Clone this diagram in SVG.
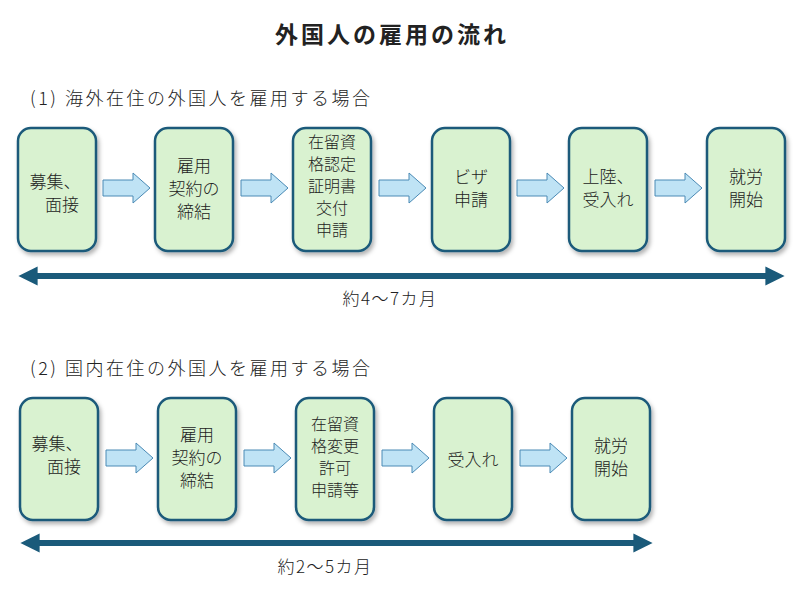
<svg xmlns="http://www.w3.org/2000/svg" width="800" height="600" viewBox="0 0 800 600">
<defs>
<style>
text{font-family:"Noto Sans CJK JP","Noto Sans",sans-serif;fill:#222;font-weight:300}
.t{font-size:17px;text-anchor:middle}
.s{font-size:16px;text-anchor:middle}
.h{font-size:18px;letter-spacing:2.5px}
.box{fill:#d9f2d0;stroke:#1a5a7a;stroke-width:2.5}
.blk{fill:#bfe3f5;stroke:#4a8ab5;stroke-width:1}
.line{stroke:#1a5a7a;stroke-width:6}
</style>
<filter id="sh" x="-10%" y="-10%" width="130%" height="130%"><feDropShadow dx="2" dy="3" stdDeviation="2" flood-color="#000" flood-opacity="0.3"/></filter>
<marker id="ah" viewBox="0 0 10 10" refX="5" refY="5" markerWidth="3.2" markerHeight="3.2" orient="auto-start-reverse"><path d="M0,0 L10,5 L0,10 z" fill="#1a5a7a"/></marker>
<path id="ba" d="M0,7 H30 V0 L47,15 L30,30 V23 H0 Z"/>
</defs>
<rect width="800" height="600" fill="#fff"/>
<text x="392" y="43" style="font-size:23px;font-weight:bold;text-anchor:middle;letter-spacing:3px">外国人の雇用の流れ</text>
<text class="h" x="30" y="105">(1) 海外在住の外国人を雇用する場合</text>
<text class="h" x="30" y="375">(2) 国内在住の外国人を雇用する場合</text>

<g id="n1"><rect class="box" filter="url(#sh)" x="18" y="128" width="78" height="123" rx="13"/><text class="t" x="55" y="188">募集、</text><text class="t" x="62" y="211">面接</text></g>
<g id="n2"><rect class="box" filter="url(#sh)" x="155" y="128" width="78" height="123" rx="13"/><text class="t" x="194" y="172">雇用</text><text class="t" x="194" y="195">契約の</text><text class="t" x="194" y="218">締結</text></g>
<g id="n3"><rect class="box" filter="url(#sh)" x="293" y="128" width="78" height="123" rx="13"/><text class="s" x="332" y="148">在留資</text><text class="s" x="332" y="170">格認定</text><text class="s" x="332" y="192">証明書</text><text class="s" x="332" y="214">交付</text><text class="s" x="332" y="236">申請</text></g>
<g id="n4"><rect class="box" filter="url(#sh)" x="432" y="128" width="78" height="123" rx="13"/><text class="t" x="471" y="183">ビザ</text><text class="t" x="471" y="206">申請</text></g>
<g id="n5"><rect class="box" filter="url(#sh)" x="569" y="128" width="78" height="123" rx="13"/><text class="t" x="608" y="183">上陸、</text><text class="t" x="608" y="206">受入れ</text></g>
<g id="n6"><rect class="box" filter="url(#sh)" x="707" y="128" width="78" height="123" rx="13"/><text class="t" x="746" y="183">就労</text><text class="t" x="746" y="206">開始</text></g>

<g id="m1"><rect class="box" filter="url(#sh)" x="20" y="398" width="78" height="122" rx="13"/><text class="t" x="57" y="450">募集、</text><text class="t" x="64" y="473">面接</text></g>
<g id="m2"><rect class="box" filter="url(#sh)" x="158" y="398" width="78" height="122" rx="13"/><text class="t" x="197" y="441">雇用</text><text class="t" x="197" y="464">契約の</text><text class="t" x="197" y="487">締結</text></g>
<g id="m3"><rect class="box" filter="url(#sh)" x="296" y="398" width="78" height="122" rx="13"/><text class="s" x="335" y="430">在留資</text><text class="s" x="335" y="452">格変更</text><text class="s" x="335" y="474">許可</text><text class="s" x="335" y="496">申請等</text></g>
<g id="m4"><rect class="box" filter="url(#sh)" x="434" y="398" width="78" height="122" rx="13"/><text class="t" x="473" y="466">受入れ</text></g>
<g id="m5"><rect class="box" filter="url(#sh)" x="572" y="398" width="78" height="122" rx="13"/><text class="t" x="611" y="452">就労</text><text class="t" x="611" y="475">開始</text></g>

<g id="connectors">
<use href="#ba" class="blk" x="103" y="173"/>
<use href="#ba" class="blk" x="241" y="173"/>
<use href="#ba" class="blk" x="379" y="173"/>
<use href="#ba" class="blk" x="517" y="173"/>
<use href="#ba" class="blk" x="655" y="173"/>
<use href="#ba" class="blk" x="106" y="443"/>
<use href="#ba" class="blk" x="244" y="443"/>
<use href="#ba" class="blk" x="382" y="443"/>
<use href="#ba" class="blk" x="520" y="443"/>
<line class="line" x1="28" y1="276" x2="775" y2="276" marker-start="url(#ah)" marker-end="url(#ah)"/>
<line class="line" x1="30" y1="543" x2="643" y2="543" marker-start="url(#ah)" marker-end="url(#ah)"/>
</g>
<text class="t" x="390" y="305" style="letter-spacing:1.5px">約4～7カ月</text>
<text class="t" x="325" y="573" style="letter-spacing:1.5px">約2～5カ月</text>
</svg>
